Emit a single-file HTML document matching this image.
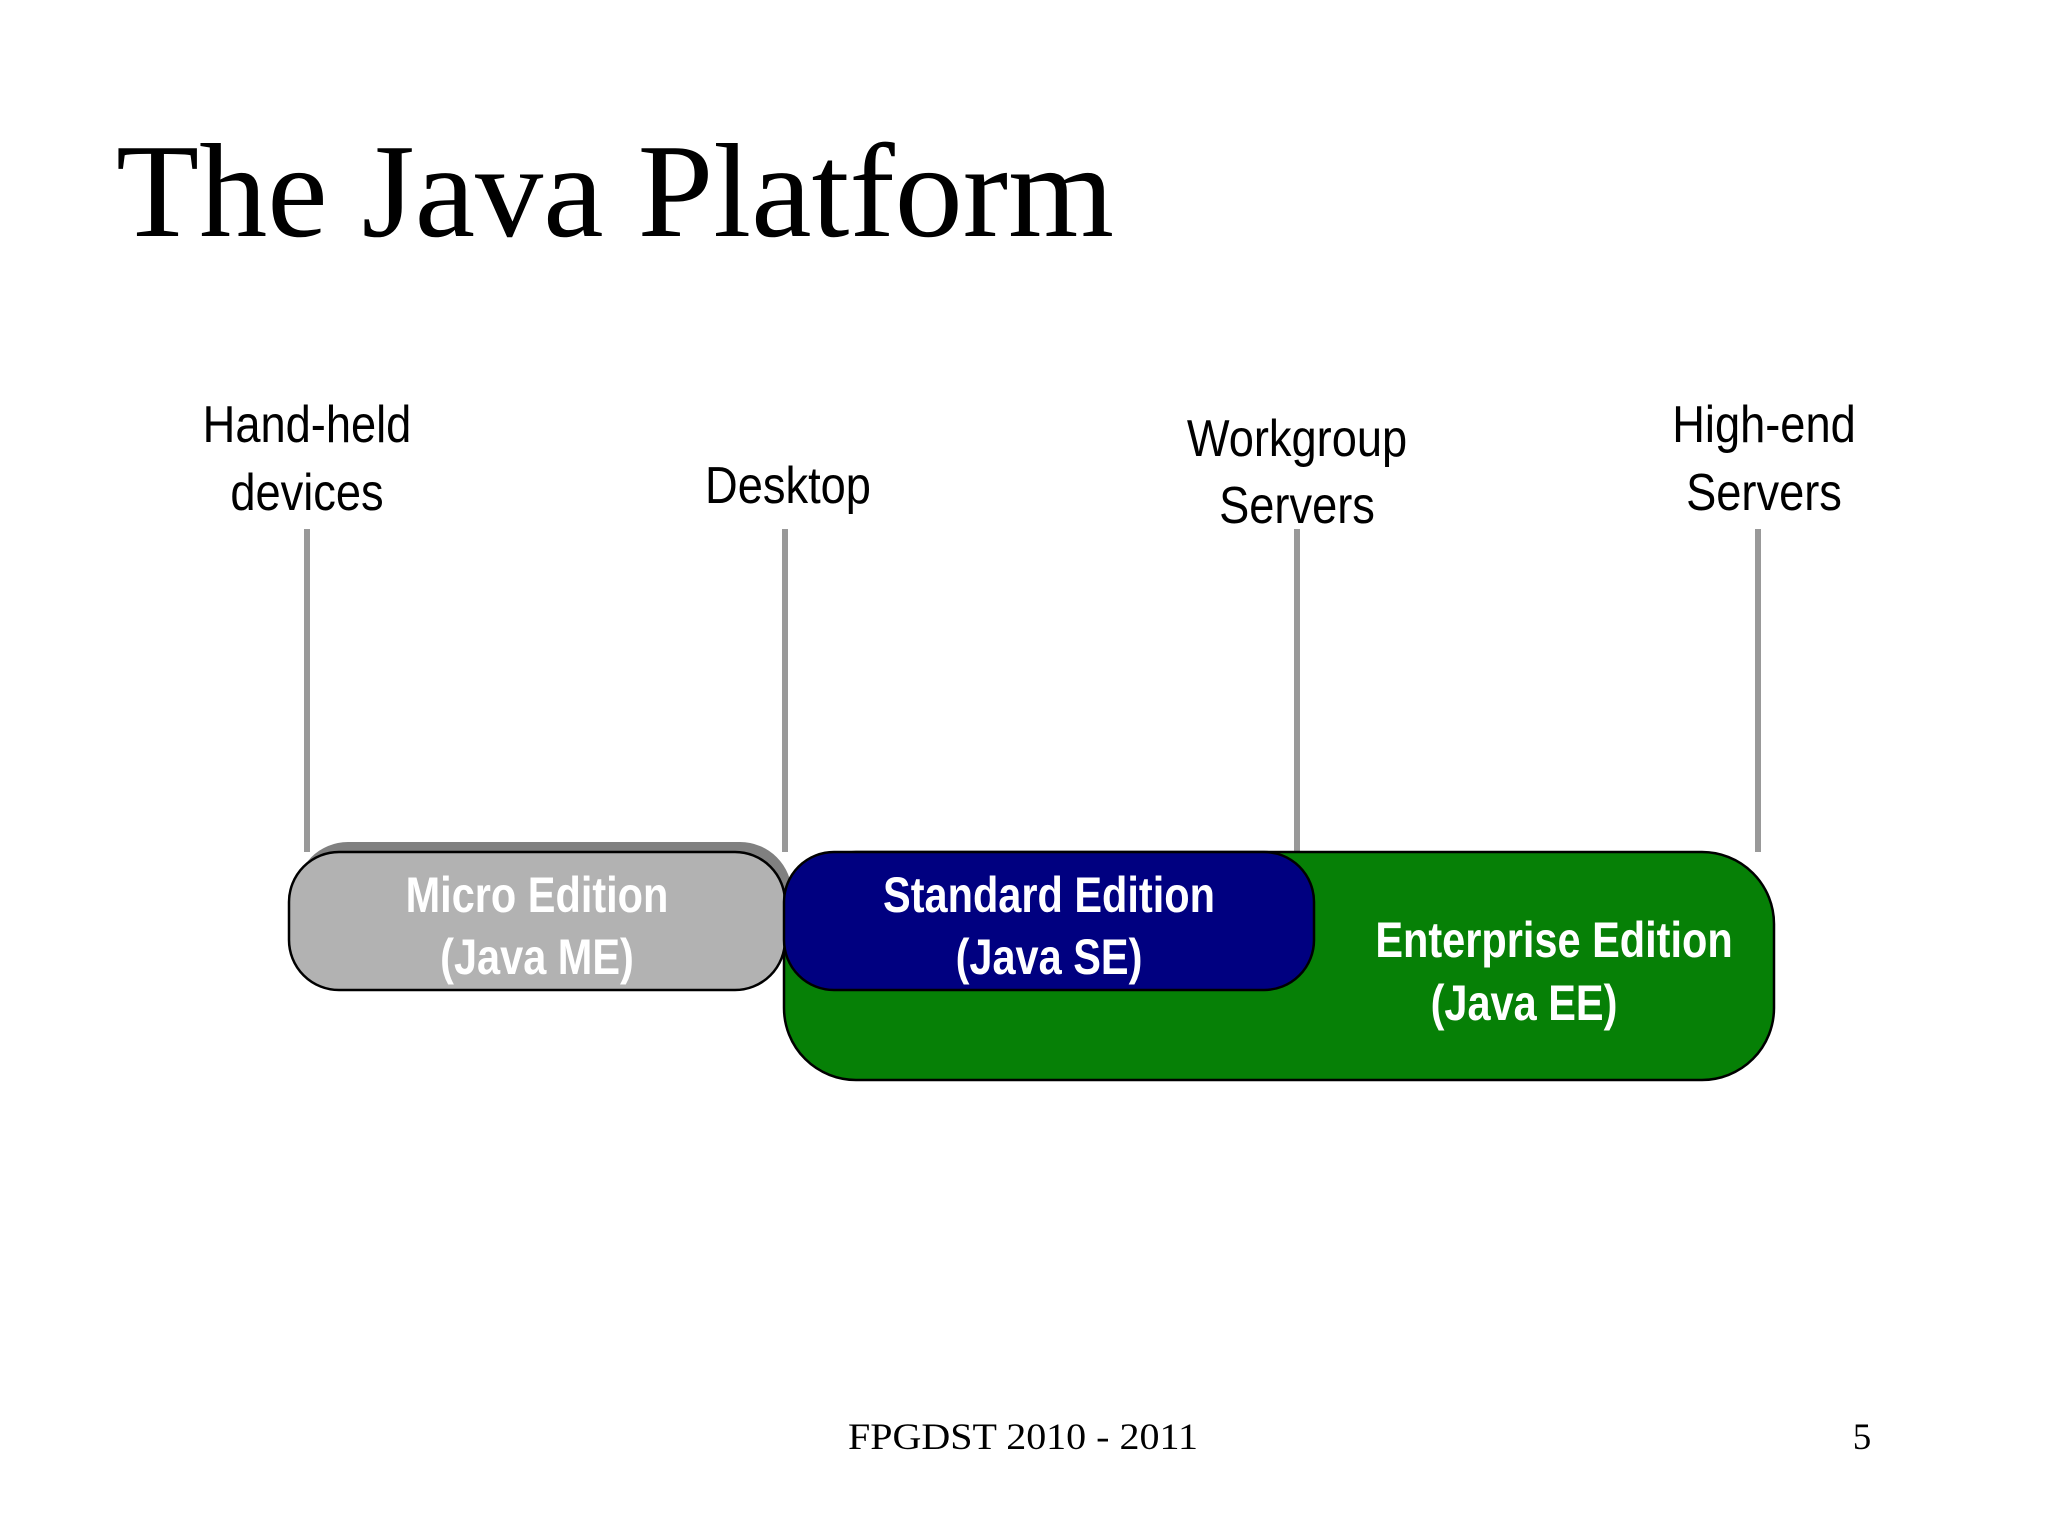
<!DOCTYPE html>
<html><head><meta charset="utf-8"><style>
html,body{margin:0;padding:0;background:#fff;}
svg{display:block;}
.lab{font-family:"Liberation Sans",Arial,sans-serif;font-size:52px;fill:#000;}
.box{font-family:"Liberation Sans",Arial,sans-serif;font-size:50px;font-weight:bold;fill:#fff;}
</style></head><body>
<svg width="2048" height="1536" viewBox="0 0 2048 1536" xmlns="http://www.w3.org/2000/svg">
<text x="116" y="236" font-family="Liberation Serif, serif" font-size="134" fill="#000" textLength="998" lengthAdjust="spacingAndGlyphs">The Java Platform</text>

<g stroke="#999" stroke-width="6">
<line x1="307" y1="529" x2="307" y2="852"/>
<line x1="785" y1="529" x2="785" y2="852"/>
<line x1="1297" y1="529" x2="1297" y2="852"/>
<line x1="1758" y1="529" x2="1758" y2="852"/>
</g>

<g class="lab" text-anchor="middle">
<g transform="translate(307,0) scale(0.87,1)"><text x="0" y="442">Hand-held</text><text x="0" y="510">devices</text></g>
<g transform="translate(788,0) scale(0.87,1)"><text x="0" y="503">Desktop</text></g>
<g transform="translate(1297,0) scale(0.87,1)"><text x="0" y="456">Workgroup</text><text x="0" y="523">Servers</text></g>
<g transform="translate(1764,0) scale(0.87,1)"><text x="0" y="442">High-end</text><text x="0" y="510">Servers</text></g>
</g>

<rect x="296" y="842" width="496" height="139" rx="52" fill="#808080"/>
<rect x="784" y="852" width="990" height="228" rx="72" fill="#068006" stroke="#000" stroke-width="2.5"/>
<rect x="289" y="852" width="496" height="138" rx="50" fill="#b2b2b2" stroke="#000" stroke-width="2.5"/>
<rect x="784" y="852" width="530" height="138" rx="50" fill="#000080" stroke="#000" stroke-width="2.5"/>

<g class="box" text-anchor="middle">
<g transform="translate(537,0) scale(0.83,1)"><text x="0" y="912">Micro Edition</text><text x="0" y="974">(Java ME)</text></g>
<g transform="translate(1049,0) scale(0.83,1)"><text x="0" y="912">Standard Edition</text><text x="0" y="974">(Java SE)</text></g>
<g transform="translate(1554,0) scale(0.83,1)"><text x="0" y="957">Enterprise Edition</text></g>
<g transform="translate(1524,0) scale(0.83,1)"><text x="0" y="1020">(Java EE)</text></g>
</g>

<text x="848" y="1449" font-family="Liberation Serif, serif" font-size="37" fill="#000" textLength="350" lengthAdjust="spacingAndGlyphs">FPGDST 2010 - 2011</text>
<text x="1862" y="1449" text-anchor="middle" font-family="Liberation Serif, serif" font-size="37" fill="#000">5</text>
</svg>
</body></html>
